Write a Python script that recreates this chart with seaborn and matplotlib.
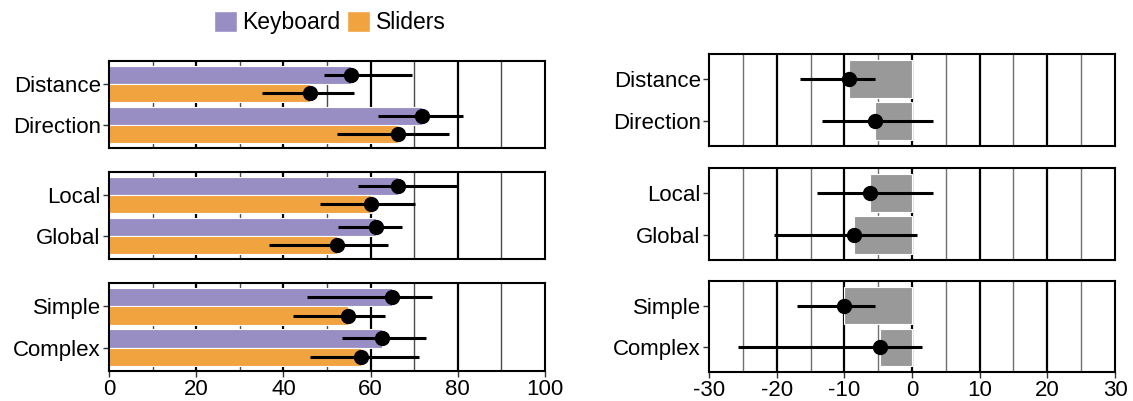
import numpy as np
import pandas as pd
import matplotlib
matplotlib.use("Agg")
import matplotlib.pyplot as plt
from matplotlib.patches import Patch
import seaborn as sns

# Data
groups = [["Distance", "Direction"], ["Local", "Global"], ["Simple", "Complex"]]
tasks = ["Distance", "Direction", "Local", "Global", "Simple", "Complex"]
methods = ["Keyboard", "Sliders"]

keyboard_mean = [55.5, 71.8, 66.4, 61.2, 64.9, 62.6]
keyboard_lo = [49.3, 61.8, 57.1, 52.6, 45.4, 53.4]
keyboard_hi = [69.4, 81.2, 80.0, 67.3, 74.2, 72.6]

sliders_mean = [46.1, 66.4, 60.1, 52.4, 54.8, 57.9]
sliders_lo = [35.2, 52.4, 48.5, 36.8, 42.1, 46.2]
sliders_hi = [56.2, 78.1, 70.2, 64.0, 63.3, 71.0]

diff_mean = [-9.3, -5.5, -6.2, -8.6, -10.1, -4.7]
diff_lo = [-16.5, -13.3, -14.1, -20.4, -17.0, -25.7]
diff_hi = [-5.5, 3.1, 3.1, 0.7, -5.5, 1.5]

purple = "#998ec3"
orange = "#f1a340"
gray = "#999999"

# Build long tables
scores = pd.DataFrame({
    "task": tasks * 2,
    "method": ["Keyboard"] * 6 + ["Sliders"] * 6,
    "mean": keyboard_mean + sliders_mean,
    "lo": keyboard_lo + sliders_lo,
    "hi": keyboard_hi + sliders_hi,
})
diffs = pd.DataFrame({"task": tasks, "mean": diff_mean, "lo": diff_lo, "hi": diff_hi})

sns.set_style("white")
plt.rcParams["font.family"] = ["Liberation Sans", "DejaVu Sans"]
plt.rcParams["axes.unicode_minus"] = False
plt.rcParams["text.color"] = "black"
plt.rcParams["xtick.labelcolor"] = "black"
plt.rcParams["ytick.labelcolor"] = "black"

fig = plt.figure(figsize=(11.33, 4.01), dpi=100)

left_pos = [(0.0962, 0.6309, 0.3848, 0.2170),
            (0.0962, 0.3541, 0.3848, 0.2170),
            (0.0962, 0.0748, 0.3848, 0.2195)]
right_pos = [(0.6258, 0.6359, 0.3583, 0.2294),
             (0.6258, 0.3516, 0.3583, 0.2294),
             (0.6258, 0.0723, 0.3583, 0.2269)]


def style_axis(ax, last, xlim, xticks, major, minor, minor_color):
    for v in minor:
        ax.axvline(v, color=minor_color, lw=1.0, zorder=0.5)
    for v in major:
        ax.axvline(v, color="black", lw=1.6, zorder=0.5)
    ax.set_xlim(*xlim)
    ax.set_xlabel("")
    ax.set_ylabel("")
    for s in ax.spines.values():
        s.set_visible(True)
        s.set_color("black")
        s.set_linewidth(1.5)
    ax.tick_params(axis="y", left=True, length=4, width=1, color="#333333",
                   labelsize=16, labelcolor="black", pad=2)
    if last:
        ax.set_xticks(xticks)
        ax.tick_params(axis="x", bottom=True, length=4, width=1,
                       color="#333333", labelsize=16, labelcolor="black",
                       pad=2)
    else:
        ax.set_xticks([])


for i, grp in enumerate(groups):
    last = i == len(groups) - 1

    # left: scores per method
    axl = fig.add_axes(left_pos[i])
    sub = scores[scores["task"].isin(grp)]
    sns.barplot(data=sub, x="mean", y="task", hue="method", order=grp,
                hue_order=methods, palette=[purple, orange], orient="h",
                width=0.9, saturation=1, edgecolor="white", linewidth=0.8,
                legend=False, errorbar=None, ax=axl)
    for j, m in enumerate(methods):
        d = sub[sub["method"] == m].set_index("task").loc[grp]
        ypos = np.arange(len(grp)) + (j - 0.5) * 0.45
        axl.errorbar(d["mean"], ypos,
                     xerr=[d["mean"] - d["lo"], d["hi"] - d["mean"]],
                     fmt="o", color="black", ms=10, elinewidth=2.2,
                     capsize=0, zorder=3)
    axl.set_ylim(1.57, -0.57)
    style_axis(axl, last, (0, 100), [0, 20, 40, 60, 80, 100],
               [20, 40, 60, 80], [10, 30, 50, 70, 90], "#4a4a4a")

    # right: difference
    axr = fig.add_axes(right_pos[i])
    dsub = diffs[diffs["task"].isin(grp)].set_index("task").loc[grp].reset_index()
    sns.barplot(data=dsub, x="mean", y="task", order=grp, color=gray,
                orient="h", width=0.9, saturation=1, edgecolor="white",
                linewidth=0.8, errorbar=None, ax=axr)
    axr.errorbar(dsub["mean"], np.arange(len(grp)),
                 xerr=[dsub["mean"] - dsub["lo"], dsub["hi"] - dsub["mean"]],
                 fmt="o", color="black", ms=10, elinewidth=2.2, capsize=0,
                 zorder=3)
    axr.set_ylim(1.59, -0.59)
    style_axis(axr, last, (-30, 30), [-30, -20, -10, 0, 10, 20, 30],
               [-20, -10, 0, 10, 20], [-25, -15, -5, 5, 15, 25], "#707070")

handles = [Patch(facecolor=purple, label="Keyboard"),
           Patch(facecolor=orange, label="Sliders")]
fig.legend(handles=handles, loc="center", bbox_to_anchor=(0.291, 0.943),
           ncol=2, frameon=False, fontsize=16.5, handlelength=1.0,
           handleheight=1.0, handletextpad=0.25, columnspacing=0.3)

fig.savefig("out.png", dpi=100)
